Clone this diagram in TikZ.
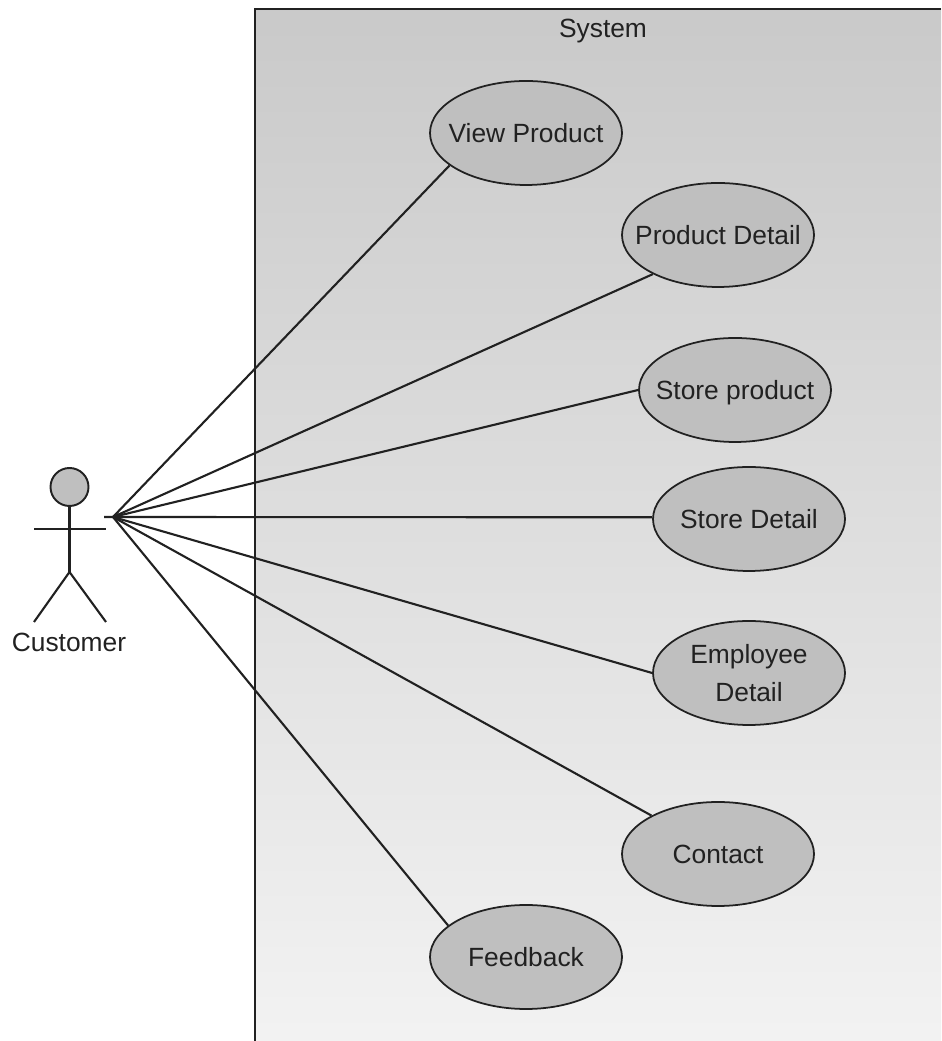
\documentclass[tikz,border=0pt]{standalone}
\usepackage{fontspec}
\setmainfont{Liberation Sans}
\usepackage{tikz}
\usetikzlibrary{shapes.geometric}
\definecolor{usecasegray}{gray}{0.75}
\definecolor{inkgray}{gray}{0.13}
\tikzset{usecase/.style = {draw = inkgray, fill = usecasegray, ellipse, line width = 1pt, inner xsep = -0.4cm, inner ysep = 0, minimum width = 3.84cm, minimum height = 2.08cm, align = center, text = inkgray, text depth = 0pt, font = \fontsize{15}{21.5}\selectfont}}
\tikzset{actorhead/.style = {draw = inkgray, fill = usecasegray, circle, line width = 1.1pt, inner sep = 0, minimum size = 0.76cm}}
\tikzset{assoc/.style = {draw = inkgray, line width = 1.2pt}}
\tikzset{plaintext/.style = {text = inkgray, inner sep = 0, font = \fontsize{15}{21.5}\selectfont}}

\begin{document}
\begin{tikzpicture}
      \useasboundingbox (0, 0) rectangle (18.82, 20.82);
      \shade [top color = black!21, bottom color = black!5] (5.1, 0) rectangle (18.82, 20.64);
      \draw [assoc] (5.1, 0) -- (5.1, 20.64) -- (18.82, 20.64);
      \node [plaintext] (system) at (12.06, 20.19) {System};

      \node [usecase] (viewproduct) at (10.52, 18.16) {View Product};
      \node [usecase] (productdetail) at (14.36, 16.12) {Product Detail};
      \node [usecase] (storeproduct) at (14.7, 13.02) {Store product};
      \node [usecase] (storedetail) at (14.98, 10.44) {Store Detail};
      \node [usecase] (employeedetail) at (14.98, 7.36) {Employee\\Detail};
      \node [usecase] (contact) at (14.36, 3.74) {Contact};
      \node [usecase] (feedback) at (10.52, 1.68) {Feedback};

      \node [actorhead] (head) at (1.39, 11.08) {};
      \coordinate (hip) at (1.39, 9.38);
      \coordinate (neck) at (1.39, 10.24);
      \draw [assoc] (head.south) -- (hip);
      \draw [assoc] (0.68, 10.24) -- (neck) -- (2.12, 10.24);
      \draw [assoc] (0.68, 8.38) -- (hip) -- (2.12, 8.38);
      \node [plaintext] (customer) at (1.38, 7.98) {Customer};

      \coordinate (port) at (2.26, 10.48);
      \coordinate (porttip) at (2.08, 10.48);
      \draw [assoc] (port) -- (viewproduct.203);
      \draw [assoc] (port) -- (productdetail.211);
      \draw [assoc] (port) -- (storeproduct.west);
      \draw [assoc] (porttip) -- (storedetail.179);
      \draw [assoc] (port) -- (employeedetail.west);
      \draw [assoc] (port) -- (contact.150);
      \draw [assoc] (port) -- (feedback.158);
    \end{tikzpicture}
\end{document}
